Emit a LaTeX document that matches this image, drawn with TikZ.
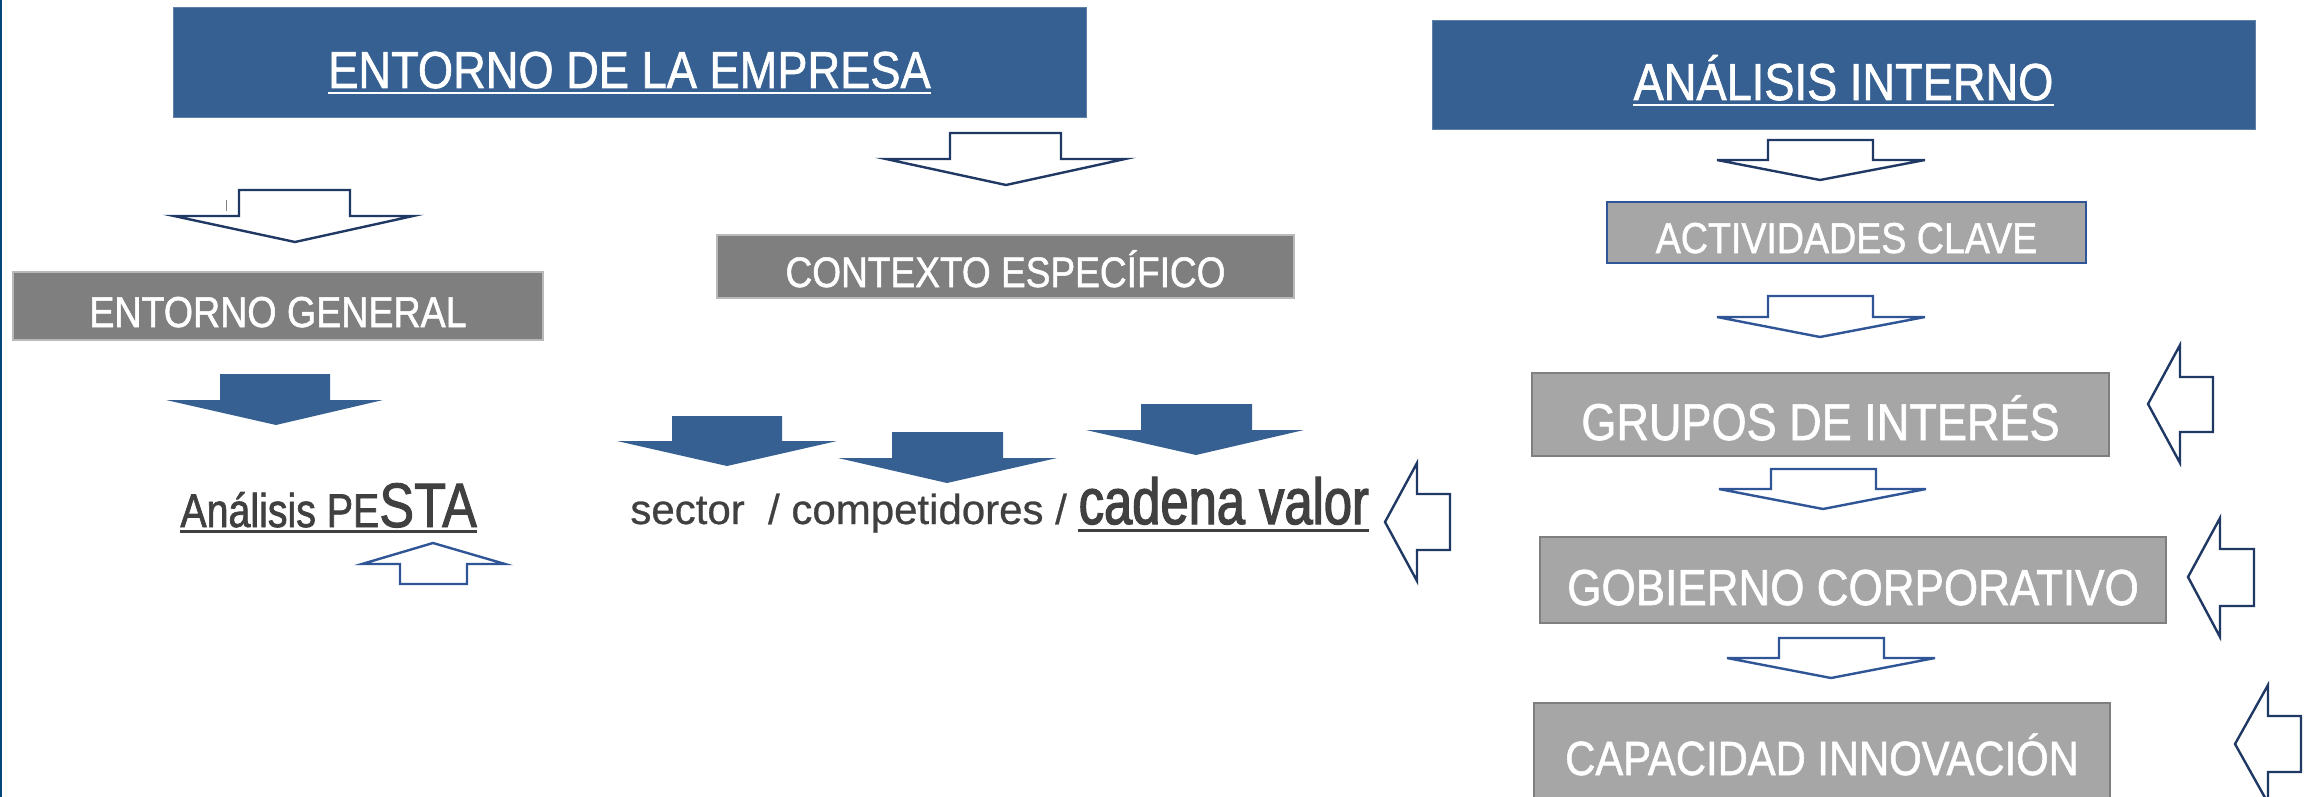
\documentclass[tikz,border=0pt]{standalone}
\usepackage{fontspec}
\setmainfont{Liberation Sans}
\newfontfamily\boxfont[FakeStretch=0.87,FakeBold=1.2]{Liberation Sans}
\newfontfamily\pestafont[FakeStretch=0.83,FakeBold=1.5]{Liberation Sans}
\newfontfamily\sectorfont[FakeBold=0.6]{Liberation Sans}
\newfontfamily\cadenafont[FakeStretch=0.78,FakeBold=2]{Liberation Sans}
\definecolor{boxblue}{RGB}{55,96,146}
\definecolor{navyline}{RGB}{31,56,100}
\definecolor{midblue}{RGB}{47,85,151}
\definecolor{boxgray}{RGB}{127,127,127}
\definecolor{paleboxgray}{RGB}{166,166,166}
\definecolor{textgray}{RGB}{64,64,64}
\definecolor{edgeblue}{RGB}{0,70,120}

\begin{document}
\begin{tikzpicture}[x=0.5pt,y=-0.5pt,
  bluebox/.style={rectangle, fill=boxblue, draw=boxblue!80!white, line width=0.5pt, inner sep=0pt},
  graybox/.style={rectangle, fill=boxgray, draw=boxgray!55!white, line width=0.6pt, inner sep=0pt},
  palebox/.style={rectangle, fill=paleboxgray, draw=boxgray, line width=1.2pt, inner sep=0pt},
  boxlabel/.style={anchor=base, inner sep=0pt, text=white},
  lowlabel/.style={anchor=base west, inner sep=0pt, text=textgray},
  openarrow/.style={draw=navyline, fill=white, line width=1.2pt},
  solidarrow/.style={fill=boxblue}]
\clip (0,0) rectangle (2313,797);
\draw[edgeblue, line width=1.2pt] (1,0) -- (1,797);

% boxes
\node [bluebox, minimum width=456.5pt, minimum height=55pt] (empresa) at (629.5,63) {};
\node [bluebox, minimum width=411.5pt, minimum height=54.5pt] (interno) at (1843.5,75.5) {};
\node [graybox, minimum width=265pt, minimum height=34pt] (general) at (278,306) {};
\node [graybox, minimum width=288.5pt, minimum height=31.5pt] (especifico) at (1005.5,266.5) {};
\node [palebox, draw=midblue, minimum width=239.5pt, minimum height=30.5pt] (actividades) at (1846.5,232.5) {};
\node [palebox, minimum width=288.5pt, minimum height=41.5pt] (grupos) at (1820.5,414.5) {};
\node [palebox, minimum width=313pt, minimum height=43pt] (gobierno) at (1853,580) {};
\node [palebox, minimum width=288pt, minimum height=60pt] (capacidad) at (1822,763) {};

% box texts
\node [boxlabel, font=\boxfont\fontsize{26}{30}\selectfont] (empresa label) at (629.5,88) {ENTORNO DE LA EMPRESA};
\draw [white, line width=1pt] ([yshift=-2.5pt]empresa label.base west) -- ([yshift=-2.5pt]empresa label.base east);
\node [boxlabel, font=\boxfont\fontsize{26}{30}\selectfont] (interno label) at (1843.5,100) {ANÁLISIS INTERNO};
\draw [white, line width=1pt] ([yshift=-2.5pt]interno label.base west) -- ([yshift=-2.5pt]interno label.base east);
\node [boxlabel, font=\boxfont\fontsize{21.6}{26}\selectfont] (general label) at (278,327) {ENTORNO GENERAL};
\node [boxlabel, font=\boxfont\fontsize{21.3}{26}\selectfont] (especifico label) at (1005.5,287) {CONTEXTO ESPECÍFICO};
\node [boxlabel, font=\boxfont\fontsize{21.6}{26}\selectfont] (actividades label) at (1846.5,253) {ACTIVIDADES CLAVE};
\node [boxlabel, font=\boxfont\fontsize{25.9}{30}\selectfont] (grupos label) at (1820.5,440) {GRUPOS DE INTERÉS};
\node [boxlabel, font=\boxfont\fontsize{25.3}{30}\selectfont] (gobierno label) at (1853,605) {GOBIERNO CORPORATIVO};
\node [boxlabel, font=\boxfont\fontsize{24}{28}\selectfont] (capacidad label) at (1822,775) {CAPACIDAD INNOVACIÓN};

% lower texts
\node [lowlabel, font=\pestafont] (pesta) at (180,527) {\fontsize{23.7}{28}\selectfont Análisis PE\fontsize{31.4}{36}\selectfont STA};
\draw [textgray, line width=1.5pt] ([yshift=-2pt]pesta.base west) -- ([yshift=-2pt]pesta.base east);
\node [lowlabel, font=\sectorfont\fontsize{21}{25}\selectfont] (sector) at (630,524) {sector\ \ / competidores /};
\node [lowlabel, font=\cadenafont\fontsize{32.5}{38}\selectfont] (cadena) at ([xshift=5.5pt]sector.base east) {cadena valor};
\draw [textgray, line width=1.5pt] ([yshift=-3pt]cadena.base west) -- ([yshift=-3pt]cadena.base east);

% open arrows
\draw [gray, line width=0.5pt] (226,200) -- (226,211);
\draw [openarrow] (950,133) -- (1061,133) -- (1061,159) -- (1125,159) -- (1006,185) -- (886,159) -- (950,159) -- cycle;
\draw [openarrow] (239,190) -- (350,190) -- (350,216) -- (413,216) -- (295,242) -- (174,216) -- (239,216) -- cycle;
\draw [openarrow] (1768,140) -- (1873,140) -- (1873,160) -- (1925,160) -- (1820,180) -- (1717,160) -- (1768,160) -- cycle;
\draw [openarrow, draw=midblue] (1768,296) -- (1873,296) -- (1873,317) -- (1925,317) -- (1820,337) -- (1717,317) -- (1768,317) -- cycle;
\draw [openarrow, draw=midblue] (1771,469) -- (1876,469) -- (1876,489) -- (1926,489) -- (1823,509) -- (1719,489) -- (1771,489) -- cycle;
\draw [openarrow, draw=midblue] (1779,638) -- (1884,638) -- (1884,658) -- (1935,658) -- (1831,678) -- (1727,658) -- (1779,658) -- cycle;
\draw [openarrow, draw=midblue] (400,584) -- (467,584) -- (467,564) -- (505,564) -- (433,543) -- (362,564) -- (400,564) -- cycle;
\draw [openarrow] (1450,494) -- (1450,550) -- (1417,550) -- (1417,581) -- (1385,522) -- (1417,463) -- (1417,494) -- cycle;
\draw [openarrow] (2213,377) -- (2213,432) -- (2180,432) -- (2180,463) -- (2148,404) -- (2180,345) -- (2180,377) -- cycle;
\draw [openarrow] (2254,549) -- (2254,606) -- (2220,606) -- (2220,637) -- (2188,577) -- (2220,518) -- (2220,549) -- cycle;
\draw [openarrow] (2301,716) -- (2301,772) -- (2268,772) -- (2268,803) -- (2235,744) -- (2268,685) -- (2268,716) -- cycle;

% solid arrows
\fill [solidarrow] (220,374) -- (330,374) -- (330,400) -- (383,400) -- (276,425) -- (166,400) -- (220,400) -- cycle;
\fill [solidarrow] (672,416) -- (782,416) -- (782,441) -- (837,441) -- (727,466) -- (617,441) -- (672,441) -- cycle;
\fill [solidarrow] (892,432) -- (1003,432) -- (1003,458) -- (1057,458) -- (947,483) -- (838,458) -- (892,458) -- cycle;
\fill [solidarrow] (1141,404) -- (1252,404) -- (1252,430) -- (1304,430) -- (1196,455) -- (1086,430) -- (1141,430) -- cycle;
\end{tikzpicture}
\end{document}
